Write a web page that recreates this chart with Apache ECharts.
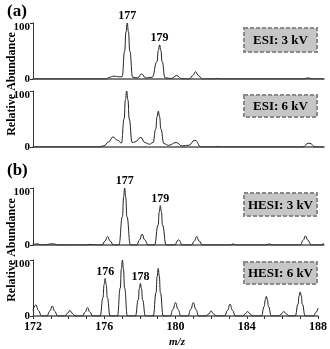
<!DOCTYPE html>
<html>
<head>
<meta charset="utf-8">
<script src="https://cdn.jsdelivr.net/npm/echarts@6/dist/echarts.min.js"></script>
<style>
  html, body { margin: 0; padding: 0; background: #fff; }
  #chart { width: 330px; height: 349px; }
</style>
</head>
<body>
<div id="chart"></div>
<script>
// 谱图数据 [m/z, 相对丰度]
const esi3kV = [
    [172, 0], [176.0, 0], [176.2, 3], [176.45, 5], [176.75, 4], [176.9, 4],
    [177.04, 50], [177.11, 84], [177.18, 100], [177.25, 84], [177.32, 50],
    [177.48, 3], [177.75, 2], [177.97, 9], [178.2, 2], [178.55, 3],
    [178.82, 31], [178.89, 51], [178.96, 61], [179.03, 51], [179.1, 31],
    [179.26, 2], [179.6, 1], [179.9, 6], [180.2, 0], [180.6, 0],
    [180.78, 6], [180.94, 13], [181.1, 6], [181.3, 0], [181.95, 0], [182.1, 1],
    [182.25, 0], [186.9, 0], [187.13, 2], [187.35, 0], [188, 0]
];
const esi6kV = [
    [172, 0], [175.6, 0], [175.9, 2], [176.15, 9], [176.4, 18], [176.65, 12],
    [176.86, 7], [177.01, 50], [177.08, 84], [177.15, 100], [177.22, 84],
    [177.29, 50], [177.45, 8], [177.6, 9], [177.93, 17], [178.15, 8],
    [178.4, 5], [178.6, 8], [178.75, 32], [178.82, 54], [178.89, 64],
    [178.96, 54], [179.03, 32], [179.2, 6], [179.45, 3], [179.87, 8],
    [180.2, 2], [180.55, 3], [180.9, 12], [181.25, 0], [182, 0],
    [182.1, 1], [182.25, 0], [186.8, 0], [187.18, 7], [187.55, 0], [188, 0]
];
const hesi3kV = [
    [172, 0], [172.2, 2], [172.5, 0], [173.1, 2], [173.4, 0], [174.95, 0],
    [175.13, 1], [175.35, 0], [175.8, 0], [175.96, 7], [176.1, 15], [176.24, 7],
    [176.42, 0], [176.72, 0], [176.92, 50], [176.98, 84], [177.04, 100],
    [177.1, 84], [177.16, 50], [177.36, 0], [177.7, 0], [177.86, 9],
    [178.0, 19], [178.14, 9], [178.33, 0], [178.68, 0], [178.88, 35],
    [178.94, 58], [179.0, 69], [179.06, 58], [179.12, 35], [179.32, 0],
    [179.78, 0], [180.0, 9], [180.22, 0], [180.72, 0], [180.87, 7], [181.0, 15],
    [181.13, 7], [181.32, 0], [182.85, 0], [183.0, 2], [183.15, 0], [184.85, 0],
    [185.0, 2], [185.15, 0], [186.7, 0], [186.85, 8], [186.98, 16],
    [187.12, 8], [187.3, 0], [187.8, 0], [188, 3]
];
const hesi6kV = [
    [172, 10], [172.16, 20], [172.3, 10], [172.48, 0],
    [172.78, 0], [172.95, 9], [173.08, 18], [173.21, 9], [173.38, 0],
    [173.8, 0], [173.94, 5], [174.07, 10], [174.2, 5], [174.36, 0],
    [174.78, 0], [174.93, 7], [175.06, 15], [175.19, 7], [175.36, 0],
    [175.77, 0], [175.93, 33], [175.99, 56], [176.05, 67], [176.11, 56], [176.17, 33], [176.33, 0],
    [176.74, 0], [176.9, 50], [176.96, 84], [177.02, 100], [177.08, 84], [177.14, 50], [177.3, 0],
    [177.75, 0], [177.91, 29], [177.97, 49], [178.03, 58], [178.09, 49], [178.15, 29], [178.31, 0],
    [178.75, 0], [178.91, 42], [178.97, 71], [179.03, 85], [179.09, 71], [179.15, 42], [179.31, 0],
    [179.7, 0], [179.86, 12], [180.0, 24], [180.14, 12], [180.3, 0],
    [180.7, 0], [180.86, 12], [181.0, 24], [181.14, 12], [181.3, 0],
    [181.72, 0], [181.87, 4], [182.0, 9], [182.13, 4], [182.28, 0],
    [182.76, 0], [182.92, 10], [183.06, 21], [183.2, 10], [183.36, 0],
    [183.78, 0], [183.92, 4], [184.05, 8], [184.18, 4], [184.32, 0],
    [184.82, 0], [184.98, 17], [185.04, 29], [185.1, 35], [185.16, 29], [185.22, 17], [185.38, 0],
    [185.8, 0], [185.95, 4], [186.08, 8], [186.21, 4], [186.36, 0],
    [186.72, 0], [186.88, 21], [186.94, 36], [187.0, 43], [187.06, 36], [187.12, 21], [187.28, 0],
    [187.75, 0], [187.88, 6], [188, 14]
];

// 峰标注 [m/z, 丰度, 文本]
const esi3Labels = [[177.18, 100, '177'], [178.96, 61, '179']];
const esi6Labels = [];
const hesi3Labels = [[177.04, 100, '177'], [179.0, 69, '179']];
const hesi6Labels = [[176.05, 67, '176'], [178.03, 58, '178']];

const panelNames = ['ESI: 3 kV', 'ESI: 6 kV', 'HESI: 3 kV', 'HESI: 6 kV'];
const xTicks = [172, 176, 180, 184, 188];
const yTicks = [0, 100];

const spectra = [esi3kV, esi6kV, hesi3kV, hesi6kV];
const peakLabels = [esi3Labels, esi6Labels, hesi3Labels, hesi6Labels];

const FONT = 'Liberation Serif';
const gridTops = [23, 91, 188, 260];
const gridHeights = [56, 56, 57, 56];
const boxTops = [28, 95, 193, 262];
const boxHeights = [24, 22, 23, 22];

const chart = echarts.init(document.getElementById('chart'));

const grids = [];
const xAxes = [];
const yAxes = [];
const series = [];
const graphics = [];

for (let i = 0; i < 4; i++) {
    const isLast = i === 3;
    grids.push({ left: 33, right: 6, top: gridTops[i], height: gridHeights[i] });
    xAxes.push({
        type: 'value',
        gridIndex: i,
        min: xTicks[0],
        max: xTicks[xTicks.length - 1],
        interval: 4,
        axisLine: { show: true, lineStyle: { color: '#555', width: 1.5 } },
        axisTick: { show: isLast, length: 3, lineStyle: { color: '#333' } },
        minorTick: { show: isLast, splitNumber: 4, length: 3, lineStyle: { color: '#333' } },
        splitLine: { show: false },
        axisLabel: {
            show: isLast, color: '#000', fontFamily: FONT, fontWeight: 'bold',
            fontSize: 12, margin: 5
        }
    });
    yAxes.push({
        type: 'value',
        gridIndex: i,
        min: yTicks[0],
        max: yTicks[1],
        interval: 100,
        axisLine: { show: true, lineStyle: { color: '#333', width: 1 } },
        axisTick: { show: true, length: 3, lineStyle: { color: '#333' } },
        splitLine: { show: false },
        axisLabel: {
            color: '#000', fontFamily: FONT, fontWeight: 'bold', fontSize: 11, margin: 3,
            formatter: function(v) {
                return v === 100 ? '{top|100}' : String(v);
            },
            rich: {
                top: { fontFamily: FONT, fontWeight: 'bold', fontSize: 11, color: '#000', padding: [9, 0, 0, 0] }
            }
        }
    });
    series.push({
        type: 'line',
        xAxisIndex: i,
        yAxisIndex: i,
        data: spectra[i],
        showSymbol: false,
        smooth: 0.5,
        smoothMonotone: 'x',
        lineStyle: { color: '#222', width: 1 },
        z: 5,
        markPoint: {
            symbol: 'circle',
            symbolSize: 0,
            silent: true,
            data: peakLabels[i].map(function(p) {
                return { coord: [p[0], p[1]], value: p[2] };
            }),
            label: {
                show: true, position: 'top', distance: 1, formatter: '{c}',
                color: '#000', fontFamily: FONT, fontWeight: 'bold', fontSize: 12
            }
        }
    });

    // 条件标签框
    graphics.push({
        type: 'rect',
        shape: { x: 244, y: boxTops[i], width: 73, height: boxHeights[i] },
        style: { fill: '#c6c6c6', stroke: '#8a8a8a', lineWidth: 2, lineDash: [4, 2] }
    });
    graphics.push({
        type: 'text',
        x: 280.5,
        y: boxTops[i] + boxHeights[i] / 2 + 1,
        style: {
            text: panelNames[i], fill: '#000', font: 'bold 13px "' + FONT + '"',
            textAlign: 'center', textVerticalAlign: 'middle'
        }
    });
}

graphics.push(
    { type: 'text', x: 7, y: 12, style: { text: '(a)', fill: '#000', font: 'bold 17px "' + FONT + '"', textVerticalAlign: 'middle' } },
    { type: 'text', x: 7, y: 171, style: { text: '(b)', fill: '#000', font: 'bold 17px "' + FONT + '"', textVerticalAlign: 'middle' } },
    { type: 'text', x: 12, y: 84, rotation: Math.PI / 2, style: { text: 'Relative Abundance', fill: '#000', font: 'bold 12px "' + FONT + '"', textAlign: 'center', textVerticalAlign: 'middle' } },
    { type: 'text', x: 12, y: 250, rotation: Math.PI / 2, style: { text: 'Relative Abundance', fill: '#000', font: 'bold 12px "' + FONT + '"', textAlign: 'center', textVerticalAlign: 'middle' } },
    { type: 'text', x: 177, y: 342, style: { text: 'm/z', fill: '#000', font: 'italic bold 11px "' + FONT + '"', textAlign: 'center', textVerticalAlign: 'middle' } }
);

chart.setOption({
    backgroundColor: '#fff',
    animation: false,
    grid: grids,
    xAxis: xAxes,
    yAxis: yAxes,
    series: series,
    graphic: graphics
});
</script>
</body>
</html>
